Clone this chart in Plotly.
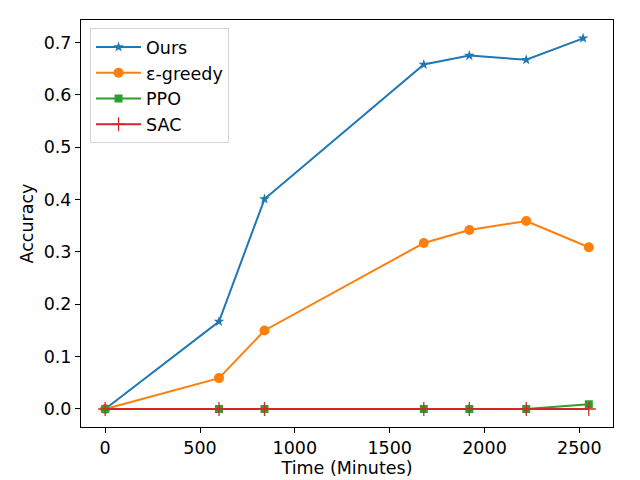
import plotly.graph_objects as go

# time points (minutes)
time_ours = [0, 600, 840, 1680, 1920, 2220, 2520]
time_other = [0, 600, 840, 1680, 1920, 2220, 2550]

acc_ours = [0.0, 0.167, 0.401, 0.658, 0.675, 0.667, 0.708]
acc_greedy = [0.0, 0.059, 0.150, 0.317, 0.342, 0.359, 0.309]
acc_ppo = [0.0, 0.0, 0.0, 0.0, 0.0, 0.0, 0.009]
acc_sac = [0.0, 0.0, 0.0, 0.0, 0.0, 0.0, 0.0]

x_ticks = [0, 500, 1000, 1500, 2000, 2500]
y_ticks = [0.0, 0.1, 0.2, 0.3, 0.4, 0.5, 0.6, 0.7]

font = "DejaVu Sans"

fig = go.Figure()
fig.add_trace(go.Scatter(x=time_ours, y=acc_ours, name="Ours", mode="lines+markers",
                         line=dict(color="#1f77b4", width=2),
                         marker=dict(symbol="star", size=8, color="#1f77b4")))
fig.add_trace(go.Scatter(x=time_other, y=acc_greedy, name="ε-greedy", mode="lines+markers",
                         line=dict(color="#ff7f0e", width=2),
                         marker=dict(symbol="circle", size=10, color="#ff7f0e")))
fig.add_trace(go.Scatter(x=time_other, y=acc_ppo, name="PPO", mode="lines+markers",
                         line=dict(color="#2ca02c", width=2),
                         marker=dict(symbol="square", size=8, color="#2ca02c")))
fig.add_trace(go.Scatter(x=time_other, y=acc_sac, name="SAC", mode="lines+markers",
                         line=dict(color="#d62728", width=2),
                         marker=dict(symbol="cross-thin", size=10,
                                     line=dict(color="#d62728", width=1.3))))

axis_style = dict(showline=True, linecolor="black", linewidth=1, mirror=True,
                  ticks="outside", ticklen=5, tickcolor="black", tickwidth=1,
                  showgrid=False, zeroline=False,
                  tickfont=dict(family=font, size=17.5, color="black"))

fig.update_xaxes(range=[-127.5, 2677.5], tickvals=x_ticks,
                 title=dict(text="Time (Minutes)", font=dict(family=font, size=17.5, color="black"),
                            standoff=4),
                 **axis_style)
fig.update_yaxes(range=[-0.0344, 0.743], tickvals=y_ticks, tickformat=".1f",
                 title=dict(text="Accuracy", font=dict(family=font, size=17.5, color="black"),
                            standoff=5),
                 **axis_style)

# page body adds ~8px offset, margins compensate for it
fig.update_layout(
    width=640, height=480,
    margin=dict(l=73, r=35, t=12, b=61, autoexpand=False),
    paper_bgcolor="white", plot_bgcolor="white",
    font=dict(family=font, size=17.5, color="black"),
    legend=dict(x=0.017, y=0.98, xanchor="left", yanchor="top",
                bgcolor="white", bordercolor="#d5d5d5", borderwidth=1,
                font=dict(family=font, size=17.5, color="black"),
                itemwidth=45, tracegroupgap=0),
    showlegend=True,
)

fig.write_html("out.html")
